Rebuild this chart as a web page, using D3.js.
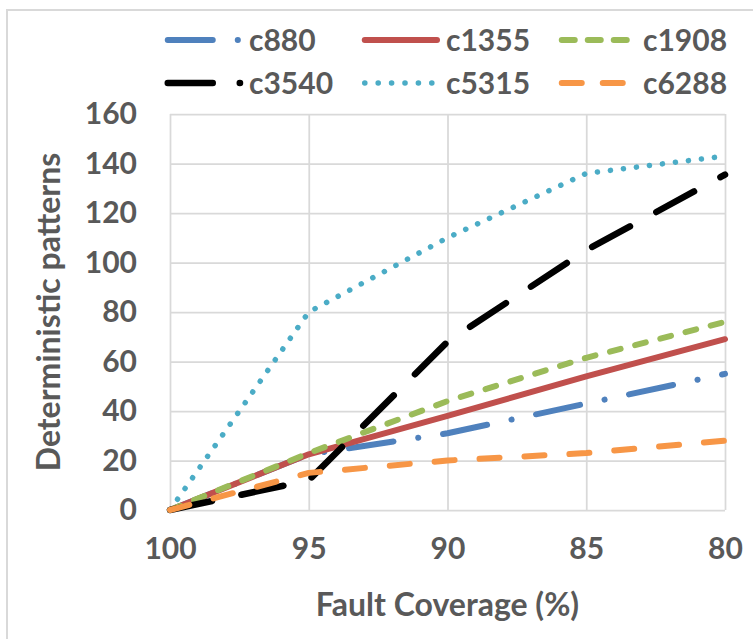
<!DOCTYPE html>
<html>
<head>
<meta charset="utf-8">
<script src="https://cdn.jsdelivr.net/npm/d3@7"></script>
<style>
  body { margin: 0; background: #fff; }
  svg text { font-family: Lato, "Open Sans", sans-serif; font-weight: bold; fill: #595959; }
</style>
</head>
<body>
<svg id="chart" width="753" height="639"></svg>
<script>
// fault coverage (%) on the x axis, reversed
var coverage = [100, 95, 90, 85, 80];

var c880  = [0, 22.5, 31, 43, 55];
var c1355 = [0, 22.5, 38, 54, 69];
var c1908 = [0, 23, 44, 61.5, 76];
var c3540 = [0, 12, 68, 105, 135.5];
var c5315 = [0, 80, 110, 136, 143];
var c6288 = [0, 15, 20, 23, 28];

var seriesNames = ["c880", "c1355", "c1908", "c3540", "c5315", "c6288"];
var xTicks = [100, 95, 90, 85, 80];
var yTicks = [0, 20, 40, 60, 80, 100, 120, 140, 160];

var series = [
    {name: seriesNames[0], values: c880,  color: "#4f81bd", width: 6, dash: "45,25,0.1,25", legendDash: "45,25,0.1,25"},
    {name: seriesNames[1], values: c1355, color: "#c0504d", width: 6, dash: null, legendDash: null},
    {name: seriesNames[2], values: c1908, color: "#9bbb59", width: 6, dash: "11,15", legendDash: "13,13"},
    {name: seriesNames[3], values: c3540, color: "#000000", width: 6.5, dash: "43,30", legendDash: "45,27"},
    {name: seriesNames[4], values: c5315, color: "#4bacc6", width: 5.5, dash: "0.1,13", legendDash: "0.1,13.3"},
    {name: seriesNames[5], values: c6288, color: "#f79646", width: 6, dash: "20,25", legendDash: "20,21"}
];

var svg = d3.select("#chart");

// outer chart frame (cropped on the right and bottom)
svg.append("rect")
    .attr("x", 7).attr("y", 10)
    .attr("width", 800).attr("height", 700)
    .attr("fill", "none")
    .attr("stroke", "#d9d9d9")
    .attr("stroke-width", 2);

var plotLeft = 170, plotRight = 725, plotTop = 114, plotBottom = 510;

var x = d3.scaleLinear().domain([100, 80]).range([plotLeft, plotRight]);
var y = d3.scaleLinear().domain([0, 160]).range([plotBottom, plotTop]);

// gridlines
svg.append("g")
    .attr("class", "xgrid")
    .attr("transform", "translate(0," + plotBottom + ")")
    .call(d3.axisBottom(x).tickValues(xTicks).tickSize(-(plotBottom - plotTop)).tickFormat(""))
    .call(function(g) { g.select(".domain").remove(); });

svg.append("g")
    .attr("class", "ygrid")
    .attr("transform", "translate(" + plotLeft + ",0)")
    .call(d3.axisLeft(y).tickValues(yTicks).tickSize(-(plotRight - plotLeft)).tickFormat(""))
    .call(function(g) { g.select(".domain").remove(); });

svg.selectAll(".xgrid line, .ygrid line")
    .attr("stroke", "#d9d9d9")
    .attr("stroke-width", 1.75);

// tick labels
var xAxis = svg.append("g")
    .attr("transform", "translate(0," + plotBottom + ")")
    .call(d3.axisBottom(x).tickValues(xTicks).tickSize(0).tickPadding(28).tickFormat(d3.format("d")));
xAxis.select(".domain").remove();

var yAxis = svg.append("g")
    .attr("transform", "translate(" + plotLeft + ",0)")
    .call(d3.axisLeft(y).tickValues(yTicks).tickSize(0).tickPadding(33).tickFormat(d3.format("d")));
yAxis.select(".domain").remove();

svg.selectAll(".tick text")
    .attr("font-size", 30)
    .attr("fill", "#595959")
    .attr("font-family", "Lato, 'Open Sans', sans-serif");

// axis titles
svg.append("text")
    .attr("x", (plotLeft + plotRight) / 2)
    .attr("y", 616)
    .attr("text-anchor", "middle")
    .attr("font-size", 32)
    .text("Fault Coverage (%)");

svg.append("text")
    .attr("transform", "translate(60," + ((plotTop + plotBottom) / 2) + ") rotate(-90)")
    .attr("text-anchor", "middle")
    .attr("font-size", 32)
    .text("Deterministic patterns");

// lines
var line = d3.line()
    .x(function(d, i) { return x(coverage[i]); })
    .y(function(d) { return y(d); });

svg.append("g").selectAll("path")
    .data(series)
    .enter()
    .append("path")
    .attr("d", function(d) { return line(d.values); })
    .attr("fill", "none")
    .attr("stroke", function(d) { return d.color; })
    .attr("stroke-width", function(d) { return d.width; })
    .attr("stroke-linecap", "round")
    .attr("stroke-linejoin", "round")
    .attr("stroke-dasharray", function(d) { return d.dash; });

// legend, 3 per row
var legend = svg.append("g").selectAll("g")
    .data(series)
    .enter()
    .append("g")
    .attr("transform", function(d, i) {
        return "translate(" + (165 + (i % 3) * 197) + "," + (40 + Math.floor(i / 3) * 43) + ")";
    });

legend.append("line")
    .attr("x1", 2.75).attr("x2", 75)
    .attr("y1", 0).attr("y2", 0)
    .attr("stroke", function(d) { return d.color; })
    .attr("stroke-width", function(d) { return d.width; })
    .attr("stroke-linecap", "round")
    .attr("stroke-dasharray", function(d) { return d.legendDash; });

legend.append("text")
    .attr("x", 84)
    .attr("dy", "0.36em")
    .attr("font-size", 30)
    .text(function(d) { return d.name; });
</script>
</body>
</html>
